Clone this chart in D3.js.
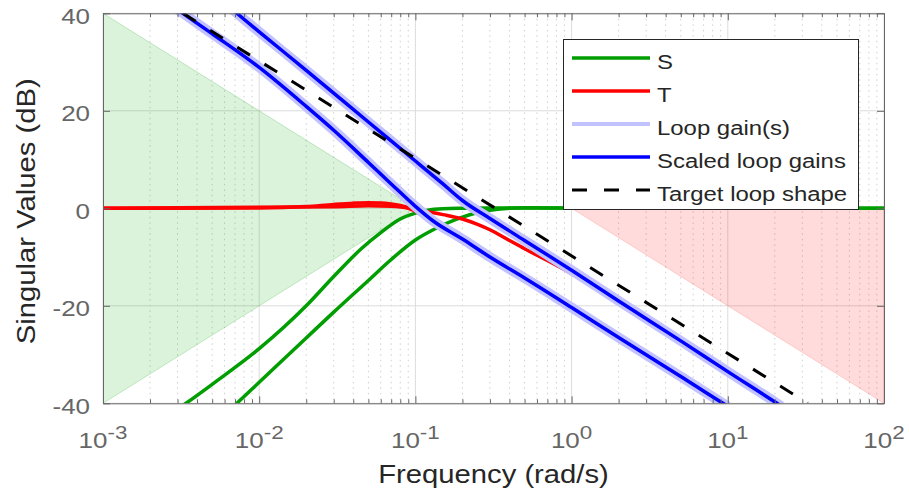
<!DOCTYPE html>
<html>
<head>
<meta charset="utf-8">
<script src="https://cdn.jsdelivr.net/npm/d3@7"></script>
<style>
  html, body { margin: 0; padding: 0; background: #ffffff; }
  svg { display: block; }
</style>
</head>
<body>
<svg id="chart" width="909" height="493"></svg>
<script>
// ---------------- data ----------------
const xTickExponents = [-3, -2, -1, 0, 1, 2];
const yTickValues = [-40, -20, 0, 20, 40];
const legendLabels = ["S", "T", "Loop gain(s)", "Scaled loop gains", "Target loop shape"];

// shaded constraint regions (frequency rad/s, dB)
const lowRegionFreq = [0.001, 0.1, 0.001];
const lowRegionMag  = [40, 0, -40];
const highRegionFreq = [1, 100, 100];
const highRegionMag  = [0, 0, -40];

// sensitivity S (two singular values)
const s1Freq = [0.0031, 0.0034, 0.005, 0.01, 0.02, 0.03, 0.045, 0.06, 0.08, 0.1, 0.12, 0.15, 0.2, 0.3, 100];
const s1Mag  = [-40.9, -40, -36.1, -28.8, -20.0, -14.0, -8.3, -5.0, -2.2, -1.0, -0.4, -0.1, 0, 0.05, 0];
const s2Freq = [0.0066, 0.0072, 0.01, 0.02, 0.03, 0.05, 0.07, 0.1, 0.13, 0.2, 0.3, 0.5, 1, 100];
const s2Mag  = [-41.1, -40, -35.7, -26.6, -21.3, -14.8, -10.5, -6.5, -4.4, -1.8, -0.4, 0.1, 0.05, 0];

// complementary sensitivity T (two singular values)
const t1Freq = [0.001, 0.01, 0.02, 0.03, 0.04, 0.05, 0.06, 0.07, 0.08, 0.09, 0.1, 0.12, 0.15, 0.2, 0.25, 0.3, 0.4, 0.5, 0.7, 1, 2, 5, 10, 20, 25];
const t1Mag  = [0, 0.05, 0.35, 0.8, 1.05, 1.15, 1.1, 0.9, 0.6, 0.2, -0.2, -0.7, -1.3, -2.2, -3.3, -4.4, -6.6, -8.3, -10.7, -13.4, -19.5, -27.6, -33.9, -40.1, -42.0];
const t2Freq = [0.001, 0.03, 0.05, 0.07, 0.09, 0.1, 0.12, 0.15, 0.2, 0.3, 0.5, 1, 2, 5, 10];
const t2Mag  = [0, 0.3, 0.5, 0.4, 0, -0.6, -2.2, -4.0, -6.6, -10.2, -14.5, -20.5, -26.6, -34.6, -40.6];

// loop gains (two singular values)
const l1Freq = [0.003, 0.00325, 0.005, 0.01, 0.02, 0.03, 0.05, 0.07, 0.1, 0.13, 0.2, 0.3, 0.5, 1, 2, 5, 9.2, 10];
const l1Mag  = [40.8, 40, 35.8, 28.9, 20.9, 16.0, 9.4, 5.0, 0.4, -2.6, -6.3, -10.0, -14.3, -20.35, -26.5, -34.5, -39.9, -40.6];
const l2Freq = [0.0068, 0.0072, 0.01, 0.02, 0.05, 0.1, 0.15, 0.2, 0.3, 0.5, 1, 2, 5, 10, 20.4, 22];
const l2Mag  = [40.7, 40, 36.2, 28.3, 17.7, 9.7, 5.0, 1.6, -2.1, -6.6, -12.7, -19.0, -27.2, -33.5, -39.9, -40.6];

// target loop shape
const targetFreq = [0.00325, 32.5];
const targetMag  = [40, -40];

// ---------------- layout ----------------
const plotLeft = 103, plotRight = 884, plotTop = 13.3, plotBottom = 403.3;
const axisColor = "#666666";
const textColor = "#262626";
const fontFamily = "'Liberation Sans', Arial, Helvetica, sans-serif";

const x = d3.scaleLog().domain([1e-3, 1e2]).range([plotLeft, plotRight]);
const y = d3.scaleLinear().domain([-40, 40]).range([plotBottom, plotTop]);

const svg = d3.select("#chart");
svg.append("rect").attr("width", 909).attr("height", 493).attr("fill", "#ffffff");

svg.append("defs").append("clipPath").attr("id", "plotclip")
  .append("rect").attr("x", plotLeft).attr("y", plotTop)
  .attr("width", plotRight - plotLeft).attr("height", plotBottom - plotTop);

const majorX = xTickExponents.map(e => Math.pow(10, e));
const minorX = [];
for (let e = -3; e < 2; e++) for (let m = 2; m < 10; m++) minorX.push(m * Math.pow(10, e));

// ---------------- grid ----------------
const grid = svg.append("g");
grid.selectAll("line.minor").data(minorX).join("line")
  .attr("x1", d => x(d)).attr("x2", d => x(d))
  .attr("y1", plotTop).attr("y2", plotBottom)
  .attr("stroke", "#cfcfcf").attr("stroke-width", 1).attr("stroke-dasharray", "1.5,4");
grid.selectAll("line.majx").data(majorX).join("line")
  .attr("x1", d => x(d)).attr("x2", d => x(d))
  .attr("y1", plotTop).attr("y2", plotBottom)
  .attr("stroke", "#dcdcdc").attr("stroke-width", 1);
grid.selectAll("line.majy").data(yTickValues).join("line")
  .attr("x1", plotLeft).attr("x2", plotRight)
  .attr("y1", d => y(d)).attr("y2", d => y(d))
  .attr("stroke", "#dcdcdc").attr("stroke-width", 1);

// ---------------- data layer ----------------
const zip = (f, m) => f.map((v, i) => [v, m[i]]);
const lineGen = d3.line().x(d => x(d[0])).y(d => y(d[1])).curve(d3.curveMonotoneX);
const polyGen = d3.line().x(d => x(d[0])).y(d => y(d[1]));

const dataLayer = svg.append("g").attr("clip-path", "url(#plotclip)");

dataLayer.append("path").attr("d", polyGen(zip(lowRegionFreq, lowRegionMag)) + "Z")
  .attr("fill", "#00a000").attr("fill-opacity", 0.14)
  .attr("stroke", "#00a000").attr("stroke-opacity", 0.2).attr("stroke-width", 1);
dataLayer.append("path").attr("d", polyGen(zip(highRegionFreq, highRegionMag)) + "Z")
  .attr("fill", "#ff0000").attr("fill-opacity", 0.14)
  .attr("stroke", "#ff0000").attr("stroke-opacity", 0.15).attr("stroke-width", 1);

const green = "#009e00", red = "#ff0000", blue = "#0000ff", lightBlue = "#c2c2ff";

function drawCurve(f, m, color, width, dash) {
  const p = dataLayer.append("path").attr("d", lineGen(zip(f, m)))
    .attr("fill", "none").attr("stroke", color).attr("stroke-width", width)
    .attr("stroke-linejoin", "round").attr("stroke-linecap", "butt");
  if (dash) p.attr("stroke-dasharray", dash);
  return p;
}

drawCurve(s1Freq, s1Mag, green, 3.5);
drawCurve(s2Freq, s2Mag, green, 3.5);
drawCurve(t2Freq, t2Mag, red, 3.5);
drawCurve(t1Freq, t1Mag, red, 3.5);
drawCurve(l1Freq, l1Mag, lightBlue, 10);
drawCurve(l2Freq, l2Mag, lightBlue, 10);
drawCurve(l1Freq, l1Mag, blue, 3.5);
drawCurve(l2Freq, l2Mag, blue, 3.5);
drawCurve(targetFreq, targetMag, "#000000", 3, "15,17");

// ---------------- axes (box, inward ticks) ----------------
function styleAxis(g, keepDomain) {
  g.selectAll("path.domain").attr("stroke", keepDomain ? axisColor : "none").attr("stroke-width", 1);
  g.selectAll(".tick line").attr("stroke", axisColor).attr("stroke-width", 1);
  g.selectAll(".tick text").remove();
}
svg.append("g").attr("transform", `translate(0,${plotBottom})`)
  .call(d3.axisBottom(x).tickValues(majorX).tickSize(-7).tickSizeOuter(0).tickFormat(""))
  .call(g => styleAxis(g, true));
svg.append("g").attr("transform", `translate(0,${plotBottom})`)
  .call(d3.axisBottom(x).tickValues(minorX).tickSize(-4).tickSizeOuter(0).tickFormat(""))
  .call(g => styleAxis(g, false));
svg.append("g").attr("transform", `translate(0,${plotTop})`)
  .call(d3.axisTop(x).tickValues(majorX).tickSize(-7).tickSizeOuter(0).tickFormat(""))
  .call(g => styleAxis(g, true));
svg.append("g").attr("transform", `translate(0,${plotTop})`)
  .call(d3.axisTop(x).tickValues(minorX).tickSize(-4).tickSizeOuter(0).tickFormat(""))
  .call(g => styleAxis(g, false));
svg.append("g").attr("transform", `translate(${plotLeft},0)`)
  .call(d3.axisLeft(y).tickValues(yTickValues).tickSize(-7).tickSizeOuter(0).tickFormat(""))
  .call(g => styleAxis(g, true));
svg.append("g").attr("transform", `translate(${plotRight},0)`)
  .call(d3.axisRight(y).tickValues(yTickValues).tickSize(-7).tickSizeOuter(0).tickFormat(""))
  .call(g => styleAxis(g, true));

// tick labels
svg.append("g").selectAll("text").data(yTickValues).join("text")
  .attr("transform", d => `translate(${plotLeft - 13},${y(d) + 10.5}) scale(1.18,1)`)
  .attr("text-anchor", "end").attr("font-family", fontFamily).attr("font-size", 22)
  .attr("fill", axisColor).text(d => String(d));

const xLab = svg.append("g").selectAll("text").data(xTickExponents).join("text")
  .attr("transform", d => `translate(${x(Math.pow(10, d))},448) scale(1.18,1)`)
  .attr("text-anchor", "middle").attr("font-family", fontFamily).attr("font-size", 22)
  .attr("fill", axisColor);
xLab.append("tspan").text("10");
xLab.append("tspan").attr("dy", -9).attr("font-size", 19).text(d => String(d));

// axis titles
svg.append("text")
  .attr("transform", `translate(${(plotLeft + plotRight) / 2},483) scale(1.17,1)`)
  .attr("text-anchor", "middle").attr("font-family", fontFamily).attr("font-size", 25)
  .attr("fill", textColor).text("Frequency (rad/s)");
svg.append("text")
  .attr("transform", `translate(35,${(plotTop + plotBottom) / 2 + 3}) rotate(-90) scale(1.17,1)`)
  .attr("text-anchor", "middle").attr("font-family", fontFamily).attr("font-size", 25)
  .attr("fill", textColor).text("Singular Values (dB)");

// ---------------- legend ----------------
const legendStyles = [
  { color: green, width: 3.5, dash: null },
  { color: red, width: 3.5, dash: null },
  { color: lightBlue, width: 4, dash: null },
  { color: blue, width: 3.5, dash: null },
  { color: "#000000", width: 3, dash: "15,17" }
];
const legend = svg.append("g");
legend.append("rect").attr("x", 563.5).attr("y", 39.5).attr("width", 295).attr("height", 170)
  .attr("fill", "#ffffff").attr("stroke", textColor).attr("stroke-width", 1);
const items = legend.selectAll("g.item").data(legendLabels).join("g")
  .attr("transform", (d, i) => `translate(0,${58 + i * 33})`);
items.append("line").attr("x1", 572).attr("x2", 650).attr("y1", 0).attr("y2", 0)
  .attr("stroke", (d, i) => legendStyles[i].color)
  .attr("stroke-width", (d, i) => legendStyles[i].width)
  .attr("stroke-dasharray", (d, i) => legendStyles[i].dash);
items.append("text").attr("transform", "translate(657,11) scale(1.14,1)")
  .attr("font-family", fontFamily).attr("font-size", 21).attr("fill", textColor)
  .text(d => d);
</script>
</body>
</html>
